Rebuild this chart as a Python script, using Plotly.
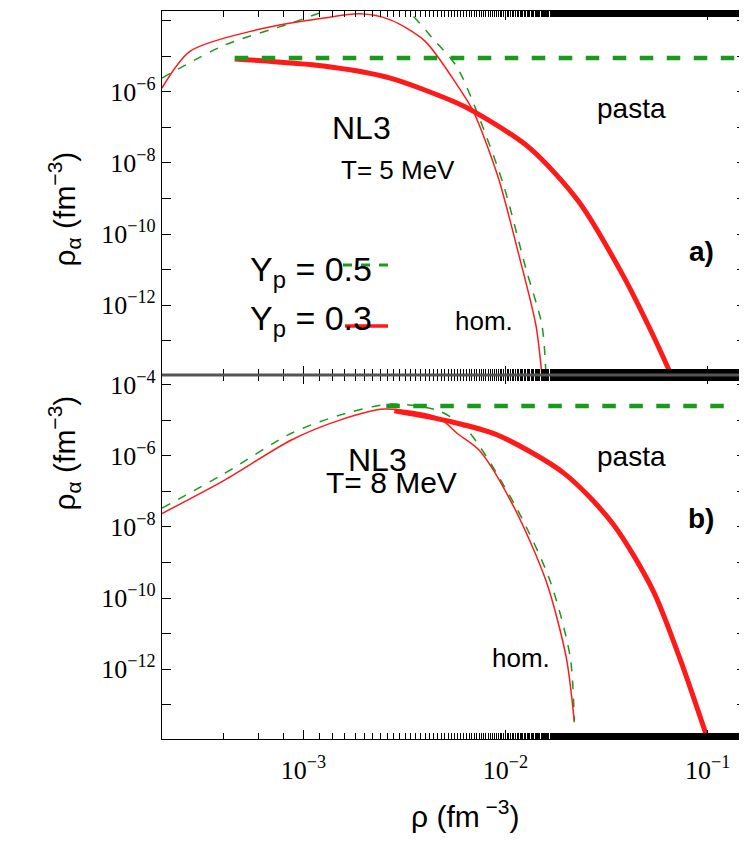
import plotly.graph_objects as go
import numpy as np

# log10(rho), log10(rho_alpha)
# panel a) T = 5 MeV
a_hom03_x = [-3.70, -3.56, -3.23, -2.90, -2.72, -2.57, -2.40, -2.24, -2.16, -2.04, -1.93, -1.85, -1.82]
a_hom03_y = [-5.89, -4.85, -4.25, -3.92, -3.80, -3.97, -4.56, -5.80, -6.54, -8.34, -10.68, -12.56, -13.97]
a_hom05_x = [-3.70, -3.39, -3.06, -2.85, -2.70, -2.51, -2.35, -2.24, -2.13, -2.01, -1.90, -1.82, -1.80]
a_hom05_y = [-5.61, -4.68, -4.06, -3.65, -3.50, -3.63, -4.56, -5.30, -6.73, -8.62, -10.96, -12.56, -13.97]
a_pas03_x = [-3.34, -2.90, -2.57, -2.24, -2.16, -1.88, -1.64, -1.42, -1.27, -1.18]
a_pas03_y = [-5.07, -5.27, -5.61, -6.31, -6.54, -7.58, -9.07, -11.15, -12.85, -13.97]
a_pas05_x = [-3.34, -0.86]
a_pas05_y = [-5.04, -5.04]
# panel b) T = 8 MeV
b_hom03_x = [-3.70, -3.39, -3.06, -2.82, -2.60, -2.33, -2.24, -2.13, -1.96, -1.80, -1.70, -1.66]
b_hom03_y = [-7.62, -6.68, -5.55, -4.99, -4.68, -4.93, -5.36, -5.84, -7.42, -9.51, -11.66, -13.46]
b_hom05_x = [-3.70, -3.39, -3.06, -2.82, -2.57, -2.33, -2.19, -1.95, -1.78, -1.68, -1.66]
b_hom05_y = [-7.47, -6.49, -5.36, -4.85, -4.54, -4.73, -5.27, -7.42, -9.51, -11.66, -13.50]
b_pas03_x = [-2.55, -2.28, -2.04, -1.71, -1.47, -1.27, -1.14, -1.00]
b_pas03_y = [-4.73, -5.02, -5.41, -6.49, -7.90, -9.79, -11.66, -13.97]
b_pas05_x = [-2.59, -0.92]
b_pas05_y = [-4.59, -4.59]

GREEN = "#1a9a1a"
RED = "#ff1a1a"
p = lambda v: 10 ** np.array(v)

fig = go.Figure()
def add(x, y, color, width, dash, row):
    fig.add_trace(go.Scatter(x=p(x), y=p(y), mode="lines", showlegend=False, cliponaxis=True,
                             line=dict(color=color, width=width, dash=dash, shape="spline", smoothing=0.8),
                             xaxis="x" if row == 1 else "x2", yaxis="y" if row == 1 else "y2"))

add(a_hom05_x, a_hom05_y, GREEN, 1.5, "dash", 1)
add(a_hom03_x, a_hom03_y, RED, 1.5, "solid", 1)
add(a_pas03_x, a_pas03_y, RED, 5, "solid", 1)
add(a_pas05_x, a_pas05_y, GREEN, 4.5, "dash", 1)
add(b_hom05_x, b_hom05_y, GREEN, 1.5, "dash", 2)
add(b_hom03_x, b_hom03_y, RED, 1.5, "solid", 2)
add(b_pas03_x, b_pas03_y, RED, 5, "solid", 2)
add(b_pas05_x, b_pas05_y, GREEN, 4.5, "dash", 2)

ser = "Liberation Serif"
sans = "Liberation Sans"
exps = list(range(-4, -15, -1))
yt_vals = [10.0 ** e for e in exps]
yt_text = ["10<sup>%s</sup>" % ("−" + str(-e)) if e % 2 == 0 else "" for e in exps]
xt_vals = [1e-3, 1e-2, 1e-1]
xt_text = ["10<sup>−3</sup>", "10<sup>−2</sup>", "10<sup>−1</sup>"]
ax = dict(type="log", showline=True, linecolor="black", linewidth=1.2, mirror="ticks",
          ticks="inside", ticklen=9, showgrid=False, zeroline=False, tickcolor="black",
          automargin=False, tickfont=dict(family=ser, size=26, color="black"))
xminor = dict(ticks="inside", ticklen=6, tickcolor="black", showgrid=False)
fig.update_layout(
    width=747, height=854, plot_bgcolor="white", paper_bgcolor="white",
    margin=dict(l=154, r=9, t=3, b=123),
    xaxis=dict(ax, range=[-3.70, -0.81], anchor="y", showticklabels=False,
               tickvals=xt_vals, minor=xminor),
    yaxis=dict(ax, range=[-13.97, -3.72], domain=[0.5, 1], tickvals=yt_vals, ticktext=yt_text),
    xaxis2=dict(ax, range=[-3.70, -0.81], anchor="y2", tickvals=xt_vals, ticktext=xt_text,
                minor=xminor, ticklabelstandoff=8),
    yaxis2=dict(ax, range=[-13.97, -3.72], domain=[0, 0.5], tickvals=yt_vals, ticktext=yt_text),
)
fig.add_shape(type="line", xref="paper", yref="paper", x0=0, x1=1, y0=0.5, y1=0.5,
              line=dict(color="#555555", width=3))

W, H = 584, 728
def px(xp, yp, s, size=22, bold=False, angle=0):
    fig.add_annotation(x=(xp - 154) / W, y=1 - (yp - 3) / H, xref="paper", yref="paper",
                       text=("<b>%s</b>" % s) if bold else s, showarrow=False, textangle=angle,
                       font=dict(family=sans, size=size, color="black"))

ytitle = "ρ<sub>α</sub> (fm<sup>−3</sup>)"
px(33, 142, ytitle, 30, angle=-90)
px(33, 505, ytitle, 30, angle=-90)
px(457, 827, "ρ (fm<sup> −3</sup>)", 30)

px(353, 100, "NL3", 32)
px(390, 145, "T= 5 MeV", 26)
px(660, 83, "pasta", 28)
px(708, 226, "a)", 28, True)
px(476, 313, "hom.", 26)
px(240, 263, "Y<sub>p</sub> = 0.5", 34)
px(240, 312, "Y<sub>p</sub> = 0.3", 34)
fig.add_shape(type="line", xref="paper", yref="paper", x0=(335 - 154) / W, x1=(380 - 154) / W,
              y0=1 - (257 - 3) / H, y1=1 - (257 - 3) / H, line=dict(color=GREEN, width=3, dash="dash"))
fig.add_shape(type="line", xref="paper", yref="paper", x0=(337 - 154) / W, x1=(380 - 154) / W,
              y0=1 - (318 - 3) / H, y1=1 - (318 - 3) / H, line=dict(color=RED, width=3.5))
px(338, 452, "NL3", 32)
px(383, 493, "T= 8 MeV", 30)
px(660, 448, "pasta", 28)
px(708, 528, "b)", 28, True)
px(513, 667, "hom.", 26)

fig.write_html("out.html")
